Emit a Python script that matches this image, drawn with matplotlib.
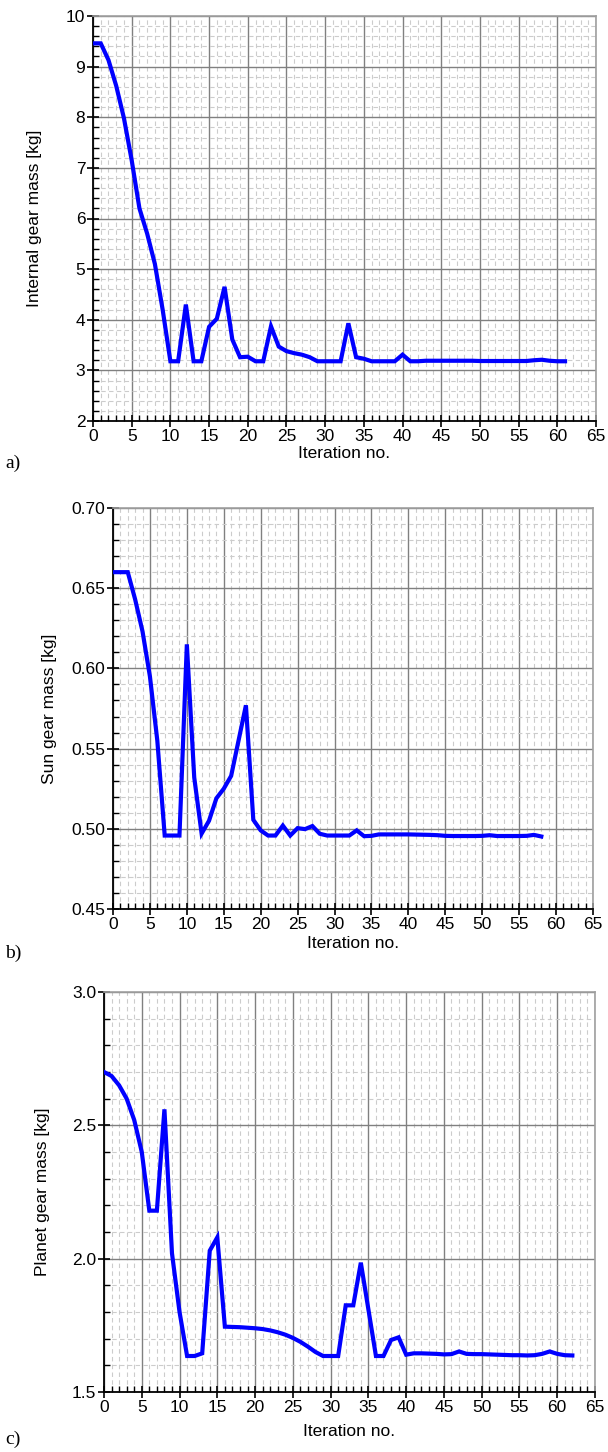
import numpy as np
import matplotlib
matplotlib.use("Agg")
import matplotlib.pyplot as plt
from matplotlib.ticker import MultipleLocator, FormatStrFormatter

plt.rcParams['font.family'] = ['Liberation Sans', 'DejaVu Sans']

# internal gear mass per iteration
internal_mass = [9.46, 9.46, 9.13, 8.62, 7.98, 7.15, 6.2, 5.7, 5.1, 4.2,
                 3.18, 3.18, 4.3, 3.18, 3.18, 3.86, 4.02, 4.65, 3.61, 3.26,
                 3.27, 3.18, 3.18, 3.87, 3.47, 3.38, 3.34, 3.31, 3.26, 3.18,
                 3.18, 3.18, 3.18, 3.93, 3.26, 3.23, 3.18, 3.18, 3.18, 3.18,
                 3.31, 3.18, 3.18, 3.19, 3.19, 3.19, 3.19, 3.19, 3.19, 3.19,
                 3.185, 3.185, 3.185, 3.185, 3.185, 3.185, 3.185, 3.20, 3.21, 3.19,
                 3.18, 3.18]

# sun gear mass per iteration
sun_mass = [0.660, 0.660, 0.660, 0.643, 0.623, 0.595, 0.555, 0.4958, 0.4958, 0.4958,
            0.615, 0.532, 0.497, 0.505, 0.519, 0.525, 0.533, 0.555, 0.577, 0.5056,
            0.499, 0.4958, 0.4958, 0.502, 0.4958, 0.5004, 0.4998, 0.5017, 0.4969, 0.4958,
            0.4958, 0.4958, 0.4958, 0.499, 0.4954, 0.4956, 0.4965, 0.4965, 0.4965, 0.4965,
            0.4965, 0.4964, 0.4963, 0.4962, 0.496, 0.4956, 0.4955, 0.4955, 0.4955, 0.4955,
            0.4956, 0.496, 0.4955, 0.4955, 0.4955, 0.4955, 0.4956, 0.4962, 0.4952]

# planet gear mass per iteration
planet_mass = [2.70, 2.685, 2.65, 2.60, 2.52, 2.40, 2.18, 2.18, 2.56, 2.02,
               1.80, 1.635, 1.635, 1.645, 2.03, 2.08, 1.745, 1.744, 1.743, 1.741,
               1.739, 1.736, 1.731, 1.724, 1.715, 1.703, 1.688, 1.67, 1.65, 1.635,
               1.635, 1.635, 1.825, 1.825, 1.985, 1.81, 1.635, 1.635, 1.695, 1.705,
               1.64, 1.645, 1.645, 1.644, 1.643, 1.641, 1.642, 1.652, 1.643, 1.642,
               1.642, 1.641, 1.640, 1.639, 1.638, 1.638, 1.637, 1.638, 1.643, 1.652,
               1.643, 1.638, 1.637]

x_ticks = list(range(0, 66, 5))

W, H = 608, 1452
fig = plt.figure(figsize=(W / 100, H / 100), dpi=100)


def make_axes(left, right, top, bottom):
    return fig.add_axes([left / W, 1 - bottom / H, (right - left) / W, (bottom - top) / H])


def style(ax, ys, ylim, ymajor, yminor, yfmt, ylabel, ylabel_x, xlabel_y, letter, letter_y):
    ax.plot(range(len(ys)), ys, color='#0000ff', lw=3.0, solid_joinstyle='miter', zorder=3)
    ax.set_xlim(0, 65)
    ax.set_ylim(*ylim)
    ax.set_xticks(x_ticks)
    ax.xaxis.set_minor_locator(MultipleLocator(1))
    ax.yaxis.set_major_locator(MultipleLocator(ymajor))
    ax.yaxis.set_minor_locator(MultipleLocator(yminor))
    ax.yaxis.set_major_formatter(FormatStrFormatter(yfmt))
    ax.grid(which='major', color='#808080', lw=1.0, ls='-')
    ax.grid(which='minor', color='#cccccc', lw=0.8, ls=(0, (4, 3)))
    ax.set_axisbelow(True)
    ax.tick_params(which='major', direction='inout', length=8, width=1.2, labelsize=12.5, pad=1.5)
    ax.tick_params(which='minor', direction='in', length=4, width=1.0)
    for s in ['top', 'right']:
        ax.spines[s].set_color('#a0a0a0')
        ax.spines[s].set_linewidth(1.2)
    for s in ['left', 'bottom']:
        ax.spines[s].set_linewidth(1.3)
    ax.set_xlabel('Iteration no.', fontsize=12.5, va='center')
    ax.set_ylabel(ylabel, fontsize=12.5)
    pos = ax.get_position()
    ax.yaxis.set_label_coords((ylabel_x / W - pos.x0) / pos.width, 0.5)
    ax.xaxis.set_label_coords(0.5, ((1 - xlabel_y / H) - pos.y0) / pos.height)
    fig.text(5 / W, 1 - letter_y / H, letter, fontsize=14, family=['Liberation Serif', 'DejaVu Serif'],
             va='center', ha='left')


ax_a = make_axes(93, 596, 16, 421)
style(ax_a, internal_mass, (2, 10), 1, 0.2, '%d', 'Internal gear mass [kg]', 42, 454, 'a)', 463)

ax_b = make_axes(113, 593, 508, 909)
style(ax_b, sun_mass, (0.45, 0.70), 0.05, 0.01, '%.2f', 'Sun gear mass [kg]', 57, 943, 'b)', 953)

ax_c = make_axes(104, 595, 992, 1392)
style(ax_c, planet_mass, (1.5, 3.0), 0.5, 0.1, '%.1f', 'Planet gear mass [kg]', 50, 1431, 'c)', 1439)

fig.savefig('out.png', dpi=100)
